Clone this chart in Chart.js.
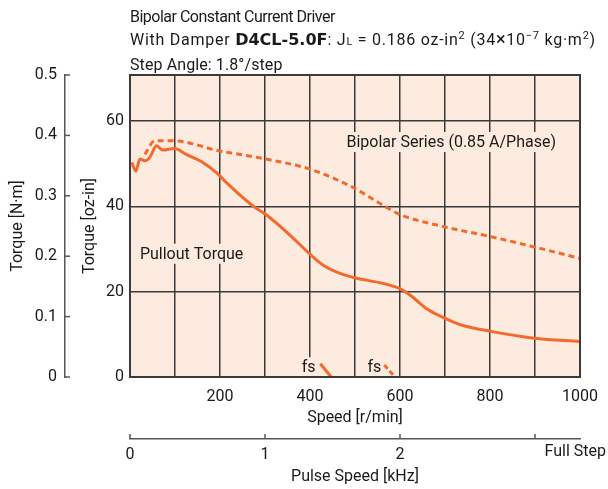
<!DOCTYPE html>
<html>
<head>
<meta charset="utf-8">
<script src="https://cdn.jsdelivr.net/npm/chart.js@4.4.1/dist/chart.umd.min.js"></script>
<style>
  html, body { margin: 0; padding: 0; background: #fff; }
  #wrap { position: relative; width: 608px; height: 489px; }
  #heading {
    position: absolute; left: 130px; top: 5px;
    font-family: 'Roboto', sans-serif;
    font-size: 16px; line-height: 23px; color: #1a1a1a; white-space: nowrap;
  }
  #heading .l1 { letter-spacing: -0.5px; }
  #heading .l2 { letter-spacing: 0.75px; }
  #heading .l3 { letter-spacing: 0.1px; }
  #heading b { font-family: 'DejaVu Sans', sans-serif; font-size: 16px; letter-spacing: 0; }
  #heading sup { font-size: 11px; vertical-align: 6px; line-height: 0; }
  #heading .sm { font-size: 11px; }
  #heading .x { font-size: 18px; line-height: 0; }
</style>
</head>
<body>
<div id="wrap">
  <canvas id="chart" width="608" height="489"></canvas>
  <div id="heading">
    <div class="l1">Bipolar Constant Current Driver</div>
    <div class="l2">With Damper <b>D4CL-5.0F</b>: J<span class="sm">L</span> = 0.186 oz-in<sup>2</sup> (34<span class="x">×</span>10<sup>−7</sup> kg·m<sup>2</sup>)</div>
    <div class="l3">Step Angle: 1.8°/step</div>
  </div>
</div>
<script>
// Данные графика
const pulloutSpeed = [4, 13, 22, 33, 44, 59, 73, 99, 125, 162, 192, 214, 272, 302, 350, 401, 427, 464, 501, 560, 600, 625, 662, 699, 736, 802, 898, 1000];
const pulloutTorque = [50.3, 48.3, 51.1, 50.7, 51.5, 54.2, 53.2, 53.6, 52.2, 50.3, 47.9, 45.6, 40.2, 38.1, 33.8, 28.7, 26.4, 24.4, 23.2, 22.0, 20.7, 19.0, 15.8, 13.8, 12.2, 10.7, 9.1, 8.3];

const dampedSpeed = [33, 55, 96, 199, 221, 302, 401, 500, 552, 600, 699, 802, 898, 1000];
const dampedTorque = [52.2, 55.4, 55.4, 53.0, 52.6, 51.1, 48.7, 44.2, 40.9, 38.1, 35.2, 32.9, 30.5, 27.8];

const fsSpeed = [423, 447];
const fsTorque = [3.1, 0];
const fsDampedSpeed = [565, 589];
const fsDampedTorque = [2.8, 0];

const speedTicks = [200, 400, 600, 800, 1000];
const speedGrid = [0, 100, 200, 300, 400, 500, 600, 700, 800, 900, 1000];
const ozTicks = [0, 20, 40, 60];
const nmTicks = [0, 0.1, 0.2, 0.3, 0.4, 0.5];
const pulseTicks = [0, 1, 2, 3];
const pulseLabels = ['0', '1', '2', ''];

const OZ_MAX = 70.81;        // 0.5 N·m в oz-in
const PULSE_MAX = 1000 / 300; // 1000 r/min при 1.8°/шаг = 3.33 kHz

const FONT = "'Roboto', sans-serif";
const ORANGE = '#f26b2d';
const PEACH = '#fdebdf';
const GRID = '#3b3b3b';
const TEXT = '#1a1a1a';

function toPoints(xs, ys) {
  return xs.map((x, i) => ({ x: x, y: ys[i] }));
}

// Фон, рамка, подписи и засечки
const decorPlugin = {
  id: 'decor',
  beforeDraw(chart) {
    const { ctx, chartArea: a } = chart;
    ctx.save();
    ctx.fillStyle = PEACH;
    ctx.fillRect(a.left, a.top, a.right - a.left, a.bottom - a.top);
    ctx.restore();
  },
  beforeDatasetsDraw(chart) {
    const { ctx } = chart;
    const x = chart.scales.x, y = chart.scales.y;
    const labels = [
      { text: 'Pullout Torque', v: 22, t: 28.9, align: 'left' },
      { text: 'Bipolar Series (0.85 A/Phase)', v: 481, t: 55.1, align: 'left' },
      { text: 'fs', v: 397, t: 2.3, align: 'center' },
      { text: 'fs', v: 543, t: 2.3, align: 'center' }
    ];
    ctx.save();
    ctx.font = '16px ' + FONT;
    ctx.textBaseline = 'middle';
    labels.forEach(l => {
      const px = x.getPixelForValue(l.v);
      const py = y.getPixelForValue(l.t);
      const w = ctx.measureText(l.text).width;
      const left = l.align === 'left' ? px : px - w / 2;
      ctx.fillStyle = PEACH;
      ctx.fillRect(left - 3, py - 10, w + 6, 20);
      ctx.fillStyle = TEXT;
      ctx.textAlign = 'left';
      ctx.fillText(l.text, left, py + 1);
    });
    ctx.restore();
  },
  afterDraw(chart) {
    const { ctx, chartArea: a } = chart;
    const nm = chart.scales.yNm, pulse = chart.scales.pulse;
    ctx.save();
    ctx.strokeStyle = GRID;
    ctx.lineWidth = 2;
    ctx.strokeRect(a.left, a.top, a.right - a.left, a.bottom - a.top);

    // засечки оси N·m внутрь
    ctx.strokeStyle = '#555';
    ctx.lineWidth = 1.5;
    nmTicks.forEach(v => {
      const py = nm.getPixelForValue(v);
      ctx.beginPath();
      ctx.moveTo(nm.right, py);
      ctx.lineTo(nm.right + 5, py);
      ctx.stroke();
    });
    // засечки оси импульсов вверх
    pulseTicks.forEach(v => {
      const px = pulse.getPixelForValue(v);
      ctx.beginPath();
      ctx.moveTo(px, pulse.top);
      ctx.lineTo(px, pulse.top - 5);
      ctx.stroke();
    });
    ctx.fillStyle = TEXT;
    ctx.font = '16px ' + FONT;
    ctx.textAlign = 'right';
    ctx.textBaseline = 'middle';
    ctx.fillText('Full Step', 606, pulse.top + 13);
    ctx.restore();
  }
};

const chart = new Chart(document.getElementById('chart'), {
  type: 'line',
  data: {
    datasets: [
      {
        label: 'Pullout Torque',
        data: toPoints(pulloutSpeed, pulloutTorque),
        borderColor: ORANGE, borderWidth: 3, pointRadius: 0, cubicInterpolationMode: 'monotone',
        xAxisID: 'x', yAxisID: 'y'
      },
      {
        label: 'Damped',
        data: toPoints(dampedSpeed, dampedTorque),
        borderColor: ORANGE, borderWidth: 3, borderDash: [6, 4], pointRadius: 0, cubicInterpolationMode: 'monotone',
        xAxisID: 'x', yAxisID: 'y'
      },
      {
        label: 'fs',
        data: toPoints(fsSpeed, fsTorque),
        borderColor: ORANGE, borderWidth: 3, pointRadius: 0,
        xAxisID: 'x', yAxisID: 'y'
      },
      {
        label: 'fs damped',
        data: toPoints(fsDampedSpeed, fsDampedTorque),
        borderColor: ORANGE, borderWidth: 3, borderDash: [5, 3], pointRadius: 0,
        xAxisID: 'x', yAxisID: 'y'
      }
    ]
  },
  options: {
    responsive: false,
    animation: false,
    layout: { padding: { top: 75, right: 25, left: 0, bottom: 0 } },
    plugins: { legend: { display: false }, tooltip: { enabled: false } },
    scales: {
      x: {
        type: 'linear', position: 'bottom', weight: 0,
        min: 0, max: 1000,
        afterBuildTicks: s => { s.ticks = speedGrid.map(v => ({ value: v })); },
        afterFit: s => { s.height = 62; },
        ticks: {
          color: TEXT, font: { family: FONT, size: 16 }, padding: 10, maxRotation: 0,
          callback: v => speedTicks.includes(v) ? String(v) : ''
        },
        grid: { color: GRID, lineWidth: 1.5, drawTicks: false },
        border: { display: true, color: GRID, width: 2 },
        title: { display: true, text: 'Speed [r/min]', color: TEXT, font: { family: FONT, size: 16 }, padding: { top: 0, bottom: 11 } }
      },
      pulse: {
        type: 'linear', position: 'bottom', weight: 1,
        min: 0, max: PULSE_MAX,
        afterBuildTicks: s => { s.ticks = pulseTicks.map(v => ({ value: v })); },
        afterFit: s => { s.height = 50; },
        ticks: {
          color: TEXT, font: { family: FONT, size: 16 }, padding: 6, maxRotation: 0,
          callback: (v, i) => pulseLabels[i]
        },
        grid: { display: false, drawTicks: false },
        border: { display: true, color: '#555', width: 1.5 },
        title: { display: true, text: 'Pulse Speed [kHz]', color: TEXT, font: { family: FONT, size: 16 }, padding: { top: 0, bottom: 2 } }
      },
      y: {
        type: 'linear', position: 'left', weight: 0,
        min: 0, max: OZ_MAX,
        afterBuildTicks: s => { s.ticks = ozTicks.map(v => ({ value: v })); },
        afterFit: s => { s.width = 65; },
        ticks: { color: TEXT, font: { family: FONT, size: 16 }, padding: 6 },
        grid: { color: GRID, lineWidth: 1.5, drawTicks: false },
        border: { display: true, color: GRID, width: 2 },
        title: { display: true, text: 'Torque [oz-in]', color: TEXT, font: { family: FONT, size: 16 }, padding: { top: 15, bottom: 0 } }
      },
      yNm: {
        type: 'linear', position: 'left', weight: 1,
        min: 0, max: 0.5,
        afterBuildTicks: s => { s.ticks = nmTicks.map(v => ({ value: v })); },
        afterFit: s => { s.width = 65; },
        ticks: {
          color: TEXT, font: { family: FONT, size: 16 }, padding: 8,
          callback: v => v === 0 ? '0' : v.toFixed(1)
        },
        grid: { display: false, drawTicks: false },
        border: { display: true, color: '#555', width: 1.5 },
        title: { display: true, text: 'Torque [N·m]', color: TEXT, font: { family: FONT, size: 16 }, padding: { top: 8, bottom: 0 } }
      }
    }
  },
  plugins: [decorPlugin]
});
</script>
</body>
</html>
